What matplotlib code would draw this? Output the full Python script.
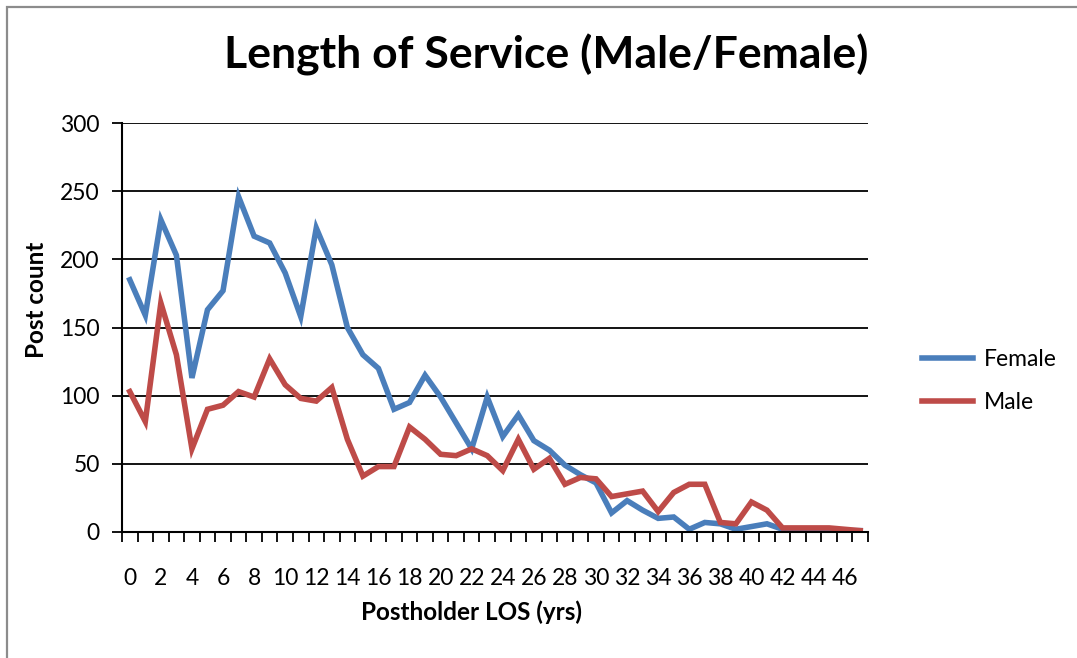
import matplotlib
matplotlib.use("Agg")
import matplotlib.pyplot as plt
from matplotlib.patches import Rectangle
from matplotlib.ticker import FixedLocator, NullFormatter

plt.rcParams['font.family'] = ['Lato', 'DejaVu Sans']

years = list(range(48))
female = [185, 159, 229, 203, 113, 163, 177, 246, 217, 212, 190, 158, 223, 196, 150, 130,
          120, 90, 95, 115, 99, 80, 61, 99, 70, 86, 67, 60, 49, 42, 36, 14,
          23, 16, 10, 11, 2, 7, 6, 2, 4, 6, 2, 1, 1, 1, 1, 1]
male = [103, 81, 168, 130, 61, 90, 93, 103, 99, 127, 108, 98, 96, 106, 68, 41,
        48, 48, 77, 68, 57, 56, 61, 56, 45, 68, 46, 54, 35, 40, 39, 26,
        28, 30, 15, 29, 35, 35, 7, 6, 22, 16, 3, 3, 3, 3, 2, 1]
tick_labels = [str(v) for v in range(0, 47, 2)]

title = "Length of Service (Male/Female)"
xlabel = "Postholder LOS (yrs)"
ylabel = "Post count"

fig = plt.figure(figsize=(10.77, 6.58), dpi=100)
fig.patches.append(Rectangle((7 / 1077, -0.05), 1.2, (658 - 7) / 658 + 0.05,
                             transform=fig.transFigure, fill=False,
                             edgecolor='#8c8c8c', linewidth=1.6))

ax = fig.add_axes([122 / 1077, (658 - 532) / 658, 746 / 1077, 409 / 658])

ax.plot(years, female, color='#4A7EBB', linewidth=4, label='Female',
        solid_joinstyle='miter')
ax.plot(years, male, color='#BE4B48', linewidth=4, label='Male',
        solid_joinstyle='miter')

ax.set_xlim(-0.5, 47.5)
ax.set_ylim(0, 300)
ax.set_yticks(range(0, 301, 50))
ax.yaxis.grid(True, color='black', linewidth=1.3)
ax.set_axisbelow(True)

ax.set_xticks(range(0, 47, 2))
ax.set_xticklabels(tick_labels)
ax.tick_params(axis='x', which='major', length=0, pad=26, labelsize=16.5)
ax.xaxis.set_minor_locator(FixedLocator([i - 0.5 for i in range(49)]))
ax.xaxis.set_minor_formatter(NullFormatter())
ax.tick_params(axis='x', which='minor', length=7, width=1.3, direction='out')
ax.tick_params(axis='y', length=7, width=1.3, pad=9, labelsize=16.5)

for s in ['top', 'right']:
    ax.spines[s].set_visible(False)
for s in ['left', 'bottom']:
    ax.spines[s].set_linewidth(1.5)
    ax.spines[s].set_color('black')

ax.set_xlabel(xlabel, fontsize=17.5, fontweight='bold')
ax.set_ylabel(ylabel, fontsize=17.5, fontweight='bold')
ax.xaxis.set_label_coords((471 - 122) / 746, -(612 - 532) / 409)
ax.yaxis.set_label_coords(-(122 - 37) / 746, (532 - 300) / 409)
ax.xaxis.label.set_va('center')
ax.yaxis.label.set_va('center')

fig.text(546 / 1077, 1 - 55 / 658, title, fontsize=32, fontweight='bold',
         ha='center', va='center')

ax.legend(loc='center left', bbox_to_anchor=(1.045, 0.37), frameon=False,
          fontsize=16.5, handlelength=2.2, handletextpad=0.5, labelspacing=0.95)

fig.savefig('out.png', dpi=100)
